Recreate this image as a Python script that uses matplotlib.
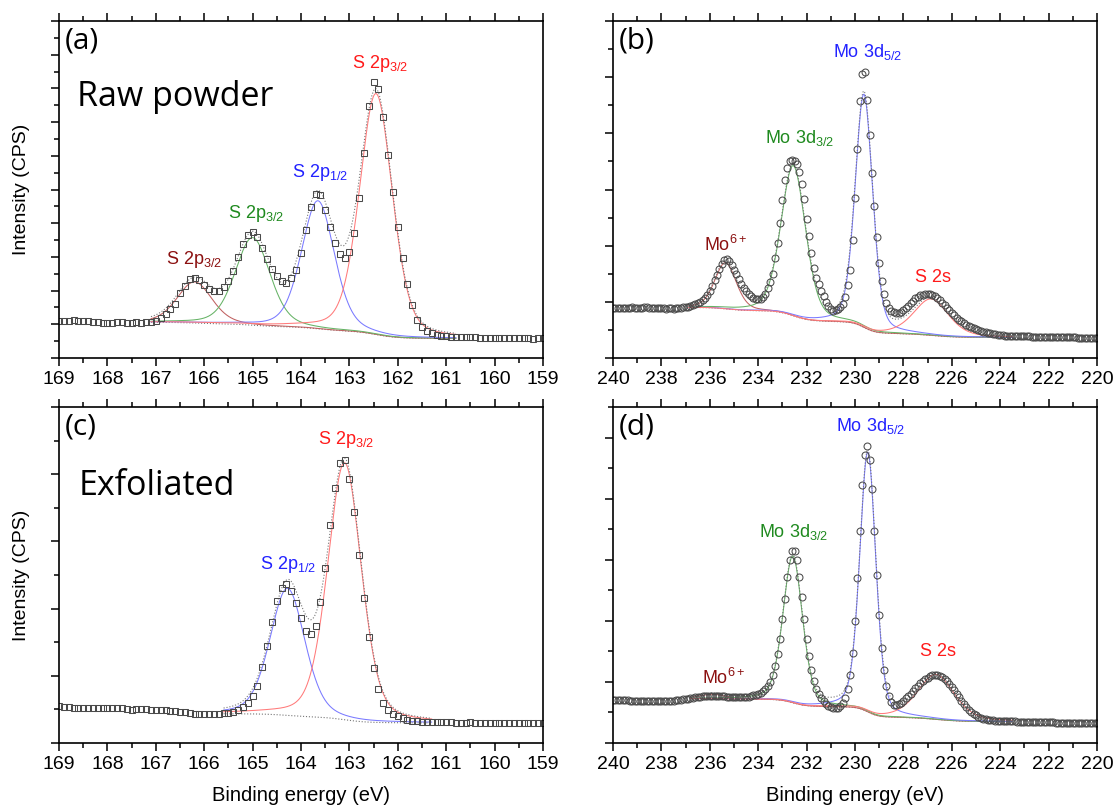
import numpy as np
import matplotlib.pyplot as plt
from matplotlib.ticker import MultipleLocator

plt.rcParams['font.family'] = ['Liberation Sans', 'DejaVu Sans']
plt.rcParams['mathtext.fontset'] = 'custom'
plt.rcParams['mathtext.rm'] = 'Liberation Sans'
plt.rcParams['mathtext.default'] = 'regular'

# ---------------- data (arbitrary intensity units, 0.1 eV steps) ----------------
# (a) S 2p, raw powder: 169.0 -> 159.0 eV
s2p_raw = [1.10, 1.10, 1.11, 1.13, 1.10, 1.10, 1.11, 1.08, 1.06, 1.05,
           1.05, 1.05, 1.08, 1.07, 1.05, 1.05, 1.07, 1.05, 1.07, 1.08,
           1.10, 1.18, 1.32, 1.45, 1.60, 1.92, 2.14, 2.33, 2.38, 2.32,
           2.18, 2.04, 2.00, 1.99, 2.10, 2.29, 2.59, 3.01, 3.37, 3.64,
           3.73, 3.59, 3.26, 2.93, 2.63, 2.43, 2.29, 2.24, 2.36, 2.62,
           3.13, 3.81, 4.48, 4.88, 4.84, 4.38, 3.89, 3.42, 3.09, 2.98,
           3.14, 3.70, 4.76, 6.09, 7.48, 8.19, 7.97, 7.15, 6.03, 4.92,
           3.90, 2.96, 2.19, 1.57, 1.13, 0.91, 0.80, 0.73, 0.69, 0.65,
           0.64, 0.63, 0.62, 0.62, 0.61, 0.61, 0.61, 0.60, 0.60, 0.60,
           0.59, 0.58, 0.59, 0.59, 0.58, 0.58, 0.58, 0.58, 0.57, 0.58,
           0.58]

# (c) S 2p, exfoliated: 169.0 -> 159.0 eV
s2p_exf = [1.10, 1.08, 1.06, 1.05, 1.05, 1.03, 1.03, 1.05, 1.03, 1.03,
           1.03, 1.04, 1.05, 1.04, 1.02, 0.98, 1.00, 1.01, 1.00, 0.98,
           0.98, 0.98, 0.97, 0.96, 0.95, 0.93, 0.91, 0.90, 0.87, 0.86,
           0.85, 0.86, 0.86, 0.87, 0.88, 0.88, 0.91, 0.98, 1.08, 1.18,
           1.40, 1.71, 2.25, 2.89, 3.60, 4.22, 4.61, 4.72, 4.52, 4.18,
           3.71, 3.34, 3.23, 3.49, 4.21, 5.22, 6.50, 7.58, 8.34, 8.42,
           7.85, 6.88, 5.60, 4.31, 3.14, 2.22, 1.60, 1.20, 0.98, 0.86,
           0.80, 0.73, 0.68, 0.66, 0.65, 0.63, 0.63, 0.62, 0.62, 0.61,
           0.61, 0.61, 0.60, 0.60, 0.60, 0.61, 0.60, 0.60, 0.59, 0.60,
           0.60, 0.59, 0.59, 0.59, 0.58, 0.59, 0.59, 0.58, 0.58, 0.58,
           0.59]

# (b) Mo 3d, raw powder: 240.0 -> 220.0 eV
mo3d_raw = [1.78, 1.78, 1.79, 1.78, 1.79, 1.79, 1.78, 1.79, 1.80, 1.79,
            1.79, 1.78, 1.79, 1.80, 1.80, 1.79, 1.78, 1.78, 1.77, 1.78,
            1.77, 1.77, 1.76, 1.77, 1.77, 1.76, 1.77, 1.78, 1.79, 1.80,
            1.81, 1.83, 1.86, 1.90, 1.93, 1.97, 2.01, 2.07, 2.14, 2.25,
            2.39, 2.56, 2.76, 2.97, 3.18, 3.33, 3.48, 3.52, 3.45, 3.30,
            3.14, 2.98, 2.80, 2.64, 2.50, 2.38, 2.28, 2.19, 2.13, 2.10,
            2.09, 2.11, 2.17, 2.27, 2.50, 2.70, 2.98, 3.55, 4.10, 4.80,
            5.62, 6.33, 6.78, 7.03, 7.04, 7.03, 6.90, 6.62, 6.20, 5.65,
            4.95, 4.35, 3.75, 3.20, 2.85, 2.64, 2.40, 2.19, 2.00, 1.85,
            1.73, 1.67, 1.70, 1.74, 1.80, 1.93, 2.17, 2.60, 3.15, 4.20,
            5.70, 7.45, 9.15, 10.12, 10.20, 9.20, 7.95, 6.60, 5.40, 4.30,
            3.40, 2.75, 2.28, 1.95, 1.78, 1.68, 1.62, 1.59, 1.60, 1.64,
            1.70, 1.77, 1.86, 1.95, 2.04, 2.12, 2.18, 2.23, 2.26, 2.28,
            2.28, 2.27, 2.25, 2.20, 2.14, 2.05, 1.96, 1.87, 1.79, 1.70,
            1.61, 1.52, 1.44, 1.37, 1.30, 1.24, 1.19, 1.14, 1.10, 1.06,
            1.02, 0.99, 0.96, 0.94, 0.92, 0.90, 0.88, 0.86, 0.84, 0.83,
            0.82, 0.81, 0.80, 0.80, 0.79, 0.79, 0.79, 0.78, 0.78, 0.78,
            0.77, 0.77, 0.77, 0.76, 0.76, 0.76, 0.76, 0.75, 0.75, 0.75,
            0.75, 0.74, 0.74, 0.74, 0.74, 0.74, 0.73, 0.73, 0.73, 0.73,
            0.73, 0.73, 0.72, 0.72, 0.72, 0.72, 0.72, 0.72, 0.72, 0.72,
            0.72]

# (d) Mo 3d, exfoliated: 240.0 -> 220.0 eV
mo3d_exf = [1.42, 1.42, 1.41, 1.41, 1.40, 1.40, 1.40, 1.39, 1.39, 1.38,
            1.38, 1.38, 1.37, 1.37, 1.37, 1.37, 1.36, 1.37, 1.37, 1.37,
            1.37, 1.38, 1.38, 1.38, 1.38, 1.39, 1.40, 1.41, 1.42, 1.43,
            1.44, 1.45, 1.46, 1.47, 1.49, 1.50, 1.52, 1.53, 1.54, 1.55,
            1.55, 1.55, 1.55, 1.54, 1.54, 1.53, 1.53, 1.52, 1.52, 1.51,
            1.51, 1.50, 1.50, 1.50, 1.50, 1.51, 1.52, 1.54, 1.56, 1.58,
            1.61, 1.65, 1.70, 1.77, 1.88, 2.00, 2.21, 2.52, 2.92, 3.41,
            4.05, 4.70, 5.43, 5.98, 6.28, 6.29, 6.00, 5.43, 4.78, 4.07,
            3.39, 2.85, 2.40, 2.02, 1.78, 1.61, 1.47, 1.36, 1.29, 1.22,
            1.18, 1.16, 1.15, 1.16, 1.20, 1.32, 1.47, 1.77, 2.21, 2.96,
            3.99, 5.41, 6.94, 8.45, 9.43, 9.71, 9.27, 8.32, 6.95, 5.50,
            4.18, 3.12, 2.38, 1.86, 1.55, 1.33, 1.23, 1.23, 1.27, 1.32,
            1.39, 1.46, 1.54, 1.62, 1.71, 1.80, 1.88, 1.96, 2.03, 2.09,
            2.14, 2.18, 2.21, 2.22, 2.22, 2.20, 2.16, 2.10, 2.02, 1.93,
            1.83, 1.72, 1.61, 1.50, 1.39, 1.28, 1.18, 1.09, 1.01, 0.95,
            0.90, 0.86, 0.83, 0.80, 0.78, 0.76, 0.75, 0.74, 0.73, 0.73,
            0.72, 0.72, 0.72, 0.71, 0.71, 0.71, 0.71, 0.70, 0.70, 0.70,
            0.70, 0.70, 0.69, 0.69, 0.69, 0.69, 0.69, 0.68, 0.68, 0.68,
            0.68, 0.68, 0.68, 0.67, 0.67, 0.67, 0.67, 0.67, 0.67, 0.66,
            0.66, 0.66, 0.66, 0.66, 0.66, 0.66, 0.65, 0.65, 0.65, 0.65,
            0.65]

# fitted components: (centre eV, height, FWHM eV, lorentz fraction)
peaks_a = [(166.20, 1.22, 0.85, 0.3), (165.00, 2.60, 0.85, 0.3),
           (163.65, 3.80, 0.80, 0.3), (162.45, 7.15, 0.80, 0.3)]
peaks_b = [(235.35, 1.65, 1.05, 0.3), (232.55, 5.35, 1.20, 0.3),
           (229.63, 8.30, 0.85, 0.3), (226.85, 1.30, 1.70, 0.4)]
peaks_c = [(164.28, 3.78, 0.85, 0.3), (163.10, 7.65, 0.82, 0.3)]
peaks_d = [(235.90, 0.15, 1.30, 0.3), (232.57, 4.80, 0.95, 0.3),
           (229.47, 8.50, 0.78, 0.3), (226.65, 1.47, 1.80, 0.4)]

RED = '#ff1a1a'
DRED = '#8b1010'
GREEN = '#1f8a1f'
BLUE = '#2222ff'
LINE = {RED: '#ff7a7a', DRED: '#c06060', GREEN: '#66b366', BLUE: '#7a7aff'}


def pv(x, c, h, w, eta):
    u = (x - c) / w
    return h * (eta / (1 + 4 * u ** 2) + (1 - eta) * np.exp(-4 * np.log(2) * u ** 2))


def draw(ax, y, start, marker, ms, peaks, cols, bg_hi, bg_lo, window):
    x = start - 0.1 * np.arange(len(y))
    e = np.linspace(window[0], window[1], 800)
    comps = [pv(e, *p) for p in peaks]
    tot = np.sum(comps, axis=0)
    # Shirley-type background from the fitted area
    area = np.cumsum(tot[::-1])[::-1]
    bg = bg_lo + (bg_hi - bg_lo) * area / area[0]
    ax.plot(e, bg, color='#777777', ls=':', lw=0.8)
    for comp, c in zip(comps, cols):
        ax.plot(e, bg + comp, color=LINE[c], lw=0.75)
    ax.plot(e, bg + tot, color='#777777', ls=':', lw=0.8)
    ax.plot(x, y, ls='none', marker=marker, ms=ms, mfc='none',
            mec='#4a4a4a', mew=0.75)


def style(ax, xlim, xmaj, xmin, ylim, ymaj, ymin):
    ax.set_xlim(*xlim)
    ax.set_ylim(*ylim)
    ax.xaxis.set_major_locator(MultipleLocator(xmaj))
    ax.xaxis.set_minor_locator(MultipleLocator(xmin))
    ax.yaxis.set_major_locator(MultipleLocator(ymaj))
    ax.yaxis.set_minor_locator(MultipleLocator(ymin))
    ax.tick_params(which='both', direction='out', top=True, right=False,
                   labelleft=False, labelsize=14, width=1.1)
    ax.tick_params(which='major', length=6)
    ax.tick_params(which='minor', length=3.5)
    for s in ax.spines.values():
        s.set_linewidth(1.2)


fig = plt.figure(figsize=(11.14, 8.09), dpi=100)
ax_a = fig.add_axes([0.0530, 0.5575, 0.4344, 0.4165])
ax_b = fig.add_axes([0.5503, 0.5575, 0.4344, 0.4165])
ax_c = fig.add_axes([0.0530, 0.0816, 0.4344, 0.4153])
ax_d = fig.add_axes([0.5503, 0.0816, 0.4344, 0.4153])

draw(ax_a, s2p_raw, 169.0, 's', 4.0, peaks_a, [DRED, GREEN, BLUE, RED],
     1.06, 0.58, (167.1, 160.8))
draw(ax_b, mo3d_raw, 240.0, 'o', 5.0, peaks_b, [DRED, GREEN, BLUE, RED],
     1.80, 0.73, (236.9, 223.5))
draw(ax_c, s2p_exf, 169.0, 's', 4.0, peaks_c, [BLUE, RED],
     0.87, 0.60, (165.6, 161.3))
draw(ax_d, mo3d_exf, 240.0, 'o', 5.0, peaks_d, [DRED, GREEN, BLUE, RED],
     1.45, 0.70, (236.8, 223.5))

style(ax_a, (169, 159), 1, 0.5, (0, 10), 1, 0.5)
style(ax_b, (240, 220), 2, 1, (0, 12), 2, 1)
style(ax_c, (169, 159), 1, 0.5, (0, 10), 2, 1)
style(ax_d, (240, 220), 2, 1, (0, 11), 2, 1)

p32 = r'S 2p$_{3/2}$'
p12 = r'S 2p$_{1/2}$'
d52 = r'Mo 3d$_{5/2}$'
d32 = r'Mo 3d$_{3/2}$'
mo6 = r'Mo$^{6+}$'
lab = dict(fontsize=13, ha='center', va='center')

ax_a.text(166.2, 2.91, p32, color=DRED, **lab)
ax_a.text(164.93, 4.30, p32, color=GREEN, **lab)
ax_a.text(163.6, 5.49, p12, color=BLUE, **lab)
ax_a.text(162.37, 8.75, p32, color=RED, **lab)

ax_b.text(229.46, 10.89, d52, color=BLUE, **lab)
ax_b.text(232.31, 7.83, d32, color=GREEN, **lab)
ax_b.text(235.33, 4.02, mo6, color=DRED, **lab)
ax_b.text(226.78, 2.88, 'S 2s', color=RED, **lab)

ax_c.text(163.07, 9.02, p32, color=RED, **lab)
ax_c.text(164.27, 5.30, p12, color=BLUE, **lab)

ax_d.text(229.34, 10.39, d52, color=BLUE, **lab)
ax_d.text(232.52, 6.90, d32, color=GREEN, **lab)
ax_d.text(235.41, 2.12, mo6, color=DRED, **lab)
ax_d.text(226.57, 3.01, 'S 2s', color=RED, **lab)

for ax, tag in zip([ax_a, ax_b, ax_c, ax_d], ['(a)', '(b)', '(c)', '(d)']):
    ax.text(0.012, 0.985, tag, transform=ax.transAxes, fontsize=21.5,
            family='Open Sans', ha='left', va='top')

ax_a.text(0.037, 0.775, 'Raw powder', transform=ax_a.transAxes, fontsize=24.5,
          family='Open Sans', ha='left', va='center')
ax_c.text(0.041, 0.765, 'Exfoliated', transform=ax_c.transAxes, fontsize=24.5,
          family='Open Sans', ha='left', va='center')

for yc in (0.766, 0.289):
    fig.text(0.019, yc, 'Intensity (CPS)', rotation=90, fontsize=14,
             ha='center', va='center')

ax_c.set_xlabel('Binding energy (eV)', fontsize=14.5, labelpad=9)
ax_d.set_xlabel('Binding energy (eV)', fontsize=14.5, labelpad=9)

fig.savefig('out.png', dpi=100)
